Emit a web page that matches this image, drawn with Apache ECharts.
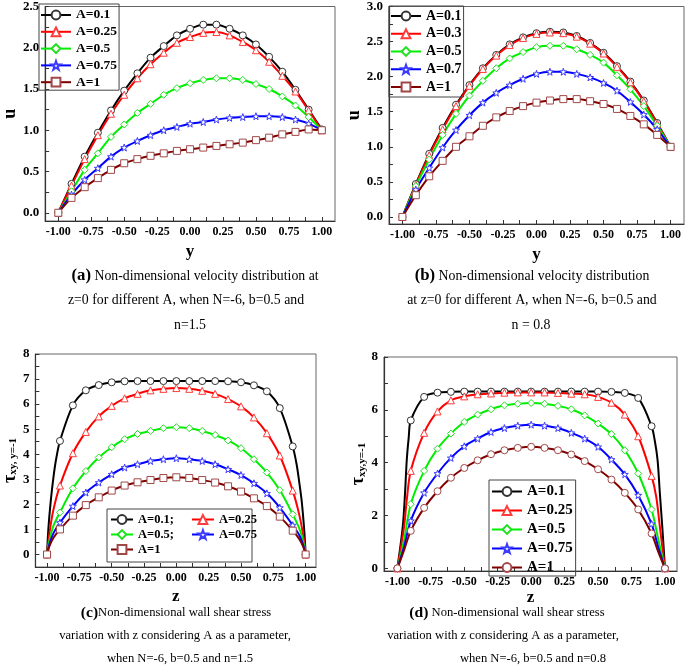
<!DOCTYPE html>
<html>
<head>
<meta charset="utf-8">
<title>velocity and wall shear stress</title>
<script src="https://cdn.jsdelivr.net/npm/echarts@6.0.0/dist/echarts.min.js"></script>
<style>
html, body { margin: 0; padding: 0; background: #fff; }
#main { width: 685px; height: 668px; }
</style>
</head>
<body>
<div id="main"></div>
<script type="text/javascript">
// marker positions (y in a,b ; z in c,d)
var pts = [-1, -0.9, -0.8, -0.7, -0.6, -0.5, -0.4, -0.3, -0.2, -0.1, 0, 0.1, 0.2, 0.3, 0.4, 0.5, 0.6, 0.7, 0.8, 0.9, 1];

// (a) u at z=0, n=1.5
var aU01  = [0, 0.35, 0.68, 0.97, 1.24, 1.48, 1.69, 1.88, 2.02, 2.15, 2.23, 2.28, 2.28, 2.23, 2.15, 2.04, 1.89, 1.71, 1.49, 1.25, 1.01];
var aU025 = [0, 0.33, 0.65, 0.94, 1.20, 1.43, 1.63, 1.80, 1.94, 2.06, 2.13, 2.18, 2.19, 2.15, 2.07, 1.97, 1.83, 1.66, 1.47, 1.24, 1.0];
var aU05  = [0, 0.26, 0.52, 0.72, 0.92, 1.07, 1.21, 1.32, 1.43, 1.51, 1.57, 1.61, 1.63, 1.63, 1.61, 1.56, 1.50, 1.41, 1.30, 1.16, 1.0];
var aU075 = [0, 0.22, 0.40, 0.54, 0.68, 0.79, 0.87, 0.94, 1.00, 1.04, 1.08, 1.10, 1.13, 1.15, 1.16, 1.17, 1.17, 1.16, 1.13, 1.08, 1.0];
var aU1   = [0, 0.18, 0.31, 0.42, 0.52, 0.60, 0.65, 0.69, 0.72, 0.75, 0.77, 0.79, 0.81, 0.83, 0.85, 0.88, 0.91, 0.95, 0.98, 1.01, 1.0];

// (b) u at z=0, n=0.8
var bU01 = [0, 0.47, 0.90, 1.27, 1.60, 1.88, 2.12, 2.31, 2.46, 2.56, 2.62, 2.64, 2.63, 2.58, 2.48, 2.34, 2.15, 1.93, 1.66, 1.34, 1.0];
var bU03 = [0, 0.46, 0.88, 1.25, 1.58, 1.87, 2.11, 2.30, 2.45, 2.55, 2.61, 2.63, 2.62, 2.57, 2.47, 2.33, 2.14, 1.92, 1.65, 1.33, 1.0];
var bU05 = [0, 0.44, 0.82, 1.17, 1.47, 1.73, 1.94, 2.12, 2.26, 2.35, 2.42, 2.44, 2.44, 2.39, 2.31, 2.20, 2.02, 1.82, 1.58, 1.30, 1.0];
var bU07 = [0, 0.39, 0.70, 0.99, 1.24, 1.45, 1.63, 1.77, 1.88, 1.97, 2.04, 2.07, 2.07, 2.04, 1.99, 1.91, 1.80, 1.64, 1.46, 1.25, 1.0];
var bU1  = [0, 0.31, 0.58, 0.80, 1.00, 1.15, 1.30, 1.42, 1.51, 1.58, 1.63, 1.66, 1.68, 1.68, 1.65, 1.61, 1.54, 1.44, 1.32, 1.17, 1.0];

// (c) wall shear stress, n=1.5
var cT01  = [0, 4.53, 5.95, 6.55, 6.76, 6.87, 6.91, 6.92, 6.92, 6.92, 6.92, 6.92, 6.92, 6.92, 6.91, 6.87, 6.75, 6.51, 5.84, 4.31, 0];
var cT025 = [0, 2.75, 4.04, 4.89, 5.51, 5.93, 6.23, 6.41, 6.55, 6.61, 6.64, 6.61, 6.53, 6.41, 6.20, 5.91, 5.47, 4.84, 3.95, 2.55, 0];
var cT05  = [0, 1.68, 2.64, 3.33, 3.87, 4.28, 4.60, 4.81, 4.93, 5.04, 5.08, 5.04, 4.93, 4.77, 4.55, 4.24, 3.80, 3.27, 2.57, 1.60, 0];
var cT075 = [0, 1.27, 1.93, 2.47, 2.87, 3.20, 3.47, 3.60, 3.73, 3.80, 3.84, 3.80, 3.73, 3.60, 3.40, 3.17, 2.84, 2.44, 1.87, 1.17, 0];
var cT1   = [0, 1.00, 1.55, 1.97, 2.28, 2.55, 2.75, 2.88, 2.97, 3.05, 3.08, 3.05, 2.97, 2.87, 2.72, 2.51, 2.24, 1.93, 1.51, 0.95, 0];
// line points near the walls (no marker)
var cX01  = [[-0.99, 1.0], [-0.97, 2.2], [-0.95, 3.1], [-0.93, 3.8], [0.93, 3.6], [0.95, 2.9], [0.97, 2.1], [0.99, 0.9]];
var cX025 = [[-0.98, 0.9], [-0.95, 1.8], [0.95, 1.6], [0.98, 0.8]];
var cX05  = [[-0.98, 0.6], [-0.95, 1.15], [0.95, 1.05], [0.98, 0.55]];
var cX075 = [[-0.98, 0.45], [-0.95, 0.85], [0.95, 0.78], [0.98, 0.4]];
var cX1   = [[-0.98, 0.35], [-0.95, 0.67], [0.95, 0.62], [0.98, 0.32]];

// (d) wall shear stress, n=0.8
var dT01  = [0, 5.60, 6.49, 6.65, 6.68, 6.69, 6.69, 6.69, 6.69, 6.69, 6.69, 6.69, 6.69, 6.69, 6.69, 6.69, 6.68, 6.64, 6.45, 5.38, 0];
var dT025 = [0, 3.69, 5.13, 5.94, 6.36, 6.51, 6.59, 6.62, 6.65, 6.66, 6.66, 6.66, 6.64, 6.61, 6.59, 6.49, 6.27, 5.82, 5.00, 3.50, 0];
var dT05  = [0, 2.43, 3.69, 4.53, 5.10, 5.54, 5.82, 6.02, 6.17, 6.23, 6.26, 6.23, 6.15, 6.02, 5.79, 5.48, 5.08, 4.47, 3.59, 2.23, 0];
var dT075 = [0, 1.80, 2.86, 3.59, 4.18, 4.62, 4.91, 5.16, 5.31, 5.40, 5.44, 5.40, 5.31, 5.13, 4.91, 4.60, 4.12, 3.56, 2.77, 1.68, 0];
var dT1   = [0, 1.42, 2.29, 2.92, 3.43, 3.80, 4.09, 4.32, 4.47, 4.56, 4.60, 4.56, 4.47, 4.31, 4.06, 3.75, 3.36, 2.86, 2.23, 1.32, 0];
var dX01  = [[-0.96, 1.57], [-0.943, 2.83], [-0.93, 4.09], [-0.915, 4.97], [0.925, 4.8], [0.945, 4.09], [0.962, 2.83], [0.98, 1.57]];
var dX025 = [[-0.95, 1.57], [-0.93, 2.58], [0.935, 2.7], [0.962, 1.57]];
var dX05  = [[-0.95, 1.07], [0.95, 1.1]];
var dX075 = [[-0.95, 0.82], [0.95, 0.8]];
var dX1   = [[-0.95, 0.69], [0.95, 0.62]];

// tick labels
var xLabels = [-1, -0.75, -0.5, -0.25, 0, 0.25, 0.5, 0.75, 1];
var xTicks = [-1, -0.875, -0.75, -0.625, -0.5, -0.375, -0.25, -0.125, 0, 0.125, 0.25, 0.375, 0.5, 0.625, 0.75, 0.875, 1];
var aYLabels = [0, 0.5, 1, 1.5, 2, 2.5];
var aYTicks = [0, 0.25, 0.5, 0.75, 1, 1.25, 1.5, 1.75, 2, 2.25, 2.5];
var bYLabels = [0, 0.5, 1, 1.5, 2, 2.5, 3];
var bYTicks = [0, 0.25, 0.5, 0.75, 1, 1.25, 1.5, 1.75, 2, 2.25, 2.5, 2.75, 3];
var cYLabels = [0, 1, 2, 3, 4, 5, 6, 7, 8];
var cYTicks = [0, 0.5, 1, 1.5, 2, 2.5, 3, 3.5, 4, 4.5, 5, 5.5, 6, 6.5, 7, 7.5, 8];
var dYLabels = [0, 2, 4, 6, 8];
var dYTicks = [0, 1, 2, 3, 4, 5, 6, 7, 8];

var SERIF = 'Liberation Serif';
var STAR = 'path://M0,-10L2.35,-3.24L9.51,-3.09L3.8,1.24L5.88,8.09L0,4L-5.88,8.09L-3.8,1.24L-9.51,-3.09L-2.35,-3.24Z';
var sty = {
    k: { line: '#000000', mark: '#333333', sym: 'circle' },
    r: { line: '#ff0000', mark: '#ff3b3b', sym: 'triangle' },
    g: { line: '#00ee00', mark: '#22e022', sym: 'diamond' },
    b: { line: '#0000ff', mark: '#3b3bff', sym: STAR },
    m: { line: '#800000', mark: '#a04848', sym: 'rect' }
};

function mkSeries(name, idx, ys, extra, s, symOverride) {
    var data = pts.map(function (x, i) { return { value: [x, ys[i]] }; });
    (extra || []).forEach(function (p) { data.push({ value: p, symbol: 'none' }); });
    data.sort(function (p, q) { return p.value[0] - q.value[0]; });
    return {
        name: name, type: 'line', xAxisIndex: idx, yAxisIndex: idx,
        data: data, smooth: 0.3, symbol: symOverride || s.sym, symbolSize: 7,
        showAllSymbol: true, color: s.line,
        lineStyle: { color: s.line, width: 2 },
        itemStyle: { color: '#ffffff', borderColor: s.mark, borderWidth: 1 },
        emphasis: { disabled: true }
    };
}

function xAx(gi, min, max, gap, nm) {
    return {
        type: 'value', gridIndex: gi, min: min, max: max,
        name: nm, nameLocation: 'middle', nameGap: gap,
        nameTextStyle: { fontFamily: SERIF, fontWeight: 'bold', fontSize: 17, color: '#000' },
        axisLine: { onZero: false, lineStyle: { color: '#333', width: 1.2 } },
        axisTick: { inside: true, length: 4, customValues: xTicks, lineStyle: { color: '#333' } },
        axisLabel: { customValues: xLabels, margin: 5, fontFamily: SERIF, fontWeight: 'bold', fontSize: 12, color: '#000',
            formatter: function (v) { return v.toFixed(2); } },
        splitLine: { show: false }
    };
}

function yAx(gi, min, max, labels, ticks, dec, gap, nm, rich) {
    return {
        type: 'value', gridIndex: gi, min: min, max: max,
        name: nm, nameLocation: 'middle', nameRotate: 90, nameGap: gap,
        nameTextStyle: { fontFamily: SERIF, fontWeight: 'bold', fontSize: 18, color: '#000', rich: rich },
        axisLine: { onZero: false, lineStyle: { color: '#333', width: 1.2 } },
        axisTick: { inside: true, length: 4, customValues: ticks, lineStyle: { color: '#333' } },
        axisLabel: { customValues: labels, margin: 6, fontFamily: SERIF, fontWeight: 'bold', fontSize: 13, color: '#000',
            formatter: function (v) { return v.toFixed(dec); } },
        splitLine: { show: false }
    };
}

var tauRich = {
    t: { fontFamily: SERIF, fontWeight: 'bold', fontSize: 18, color: '#000' },
    s: { fontFamily: SERIF, fontWeight: 'bold', fontSize: 11, color: '#000', padding: [7, 0, 0, 0] }
};

function leg(data, left, top, orient, fs, gap, iw, pad, border) {
    return {
        data: data, left: left, top: top, orient: orient,
        itemWidth: iw, itemHeight: 11, itemGap: gap, itemTextGap: 3,
        padding: pad, borderColor: border ? '#444' : 'transparent', borderWidth: border ? 1 : 0,
        textStyle: { fontFamily: SERIF, fontWeight: 'bold', fontSize: fs, lineHeight: 14, color: '#000' },
        formatter: function (n) { return n.split('|')[1]; },
        selectedMode: false
    };
}

function cap(x, y, txt, fs) {
    return {
        type: 'text', x: x, y: y,
        style: {
            text: txt, fill: '#000', font: fs + 'px "' + SERIF + '"', align: 'center', verticalAlign: 'middle',
            rich: { b: { fontFamily: SERIF, fontWeight: 'bold', fontSize: fs + 3, fill: '#000' } }
        }
    };
}

var myChart = echarts.init(document.getElementById('main'));
var option = {
    animation: false,
    backgroundColor: '#fff',
    grid: [
        { left: 39, top: 5, width: 296, height: 216, show: true, borderColor: '#666', borderWidth: 1 },
        { left: 389, top: 6, width: 295, height: 218, show: true, borderColor: '#666', borderWidth: 1 },
        { left: 30, top: 354, width: 286, height: 213, show: true, borderColor: '#666', borderWidth: 1 },
        { left: 384, top: 357, width: 293, height: 214, show: true, borderColor: '#666', borderWidth: 1 }
    ],
    xAxis: [
        xAx(0, -1.1, 1.1, 22, 'y'),
        xAx(1, -1.1, 1.1, 22, 'y'),
        xAx(2, -1.09, 1.08, 21, 'z'),
        xAx(3, -1.1, 1.09, 17, 'z')
    ],
    yAxis: [
        yAx(0, -0.1, 2.5, aYLabels, aYTicks, 1, 26, 'u'),
        yAx(1, -0.1, 3.0, bYLabels, bYTicks, 1, 21, 'u'),
        yAx(2, -0.5, 8, cYLabels, cYTicks, 0, 12, '{t|τ}{s|xy, y=-1}', tauRich),
        yAx(3, -0.1, 8, dYLabels, dYTicks, 0, 16, '{t|τ}{s|xy,y=-1}', tauRich)
    ],
    legend: [
        leg(['a|A=0.1', 'a|A=0.25', 'a|A=0.5', 'a|A=0.75', 'a|A=1'], 39, 4, 'vertical', 13.5, 2.8, 30, [4, 2, 1, 1], true),
        leg(['b|A=0.1', 'b|A=0.3', 'b|A=0.5', 'b|A=0.7', 'b|A=1'], 389, 6, 'vertical', 14, 3.75, 30, [3, 2, 3, 1], true),
        leg(['c|A=0.1;', 'c|A=0.25'], 110, 512.5, 'horizontal', 12.5, 17, 22, 0, false),
        leg(['c|A=0.5;', 'c|A=0.75'], 110, 527.5, 'horizontal', 12.5, 17, 22, 0, false),
        leg(['c|A=1'], 110, 542.5, 'horizontal', 12.5, 17, 22, 0, false),
        leg(['d|A=0.1', 'd|A=0.25', 'd|A=0.5', 'd|A=0.75', 'd|A=1'], 489, 480, 'vertical', 15, 4, 30, [4, 3, 1, 2], true)
    ],
    series: [
        mkSeries('a|A=0.1', 0, aU01, null, sty.k),
        mkSeries('a|A=0.25', 0, aU025, null, sty.r),
        mkSeries('a|A=0.5', 0, aU05, null, sty.g),
        mkSeries('a|A=0.75', 0, aU075, null, sty.b),
        mkSeries('a|A=1', 0, aU1, null, sty.m),

        mkSeries('b|A=0.1', 1, bU01, null, sty.k),
        mkSeries('b|A=0.3', 1, bU03, null, sty.r),
        mkSeries('b|A=0.5', 1, bU05, null, sty.g),
        mkSeries('b|A=0.7', 1, bU07, null, sty.b),
        mkSeries('b|A=1', 1, bU1, null, sty.m),

        mkSeries('c|A=0.1;', 2, cT01, cX01, sty.k),
        mkSeries('c|A=0.25', 2, cT025, cX025, sty.r),
        mkSeries('c|A=0.5;', 2, cT05, cX05, sty.g),
        mkSeries('c|A=0.75', 2, cT075, cX075, sty.b),
        mkSeries('c|A=1', 2, cT1, cX1, sty.m),

        mkSeries('d|A=0.1', 3, dT01, dX01, sty.k),
        mkSeries('d|A=0.25', 3, dT025, dX025, sty.r),
        mkSeries('d|A=0.5', 3, dT05, dX05, sty.g),
        mkSeries('d|A=0.75', 3, dT075, dX075, sty.b),
        mkSeries('d|A=1', 3, dT1, dX1, sty.m, 'circle')
    ],
    graphic: [
        { type: 'rect', shape: { x: 107, y: 509, width: 145, height: 53 }, style: { fill: 'none', stroke: '#444', lineWidth: 1 } },
        cap(195, 276, '{b|(a)} Non-dimensional velocity distribution at', 13.8),
        cap(186, 300, 'z=0 for different A, when N=-6, b=0.5 and', 13.8),
        cap(190, 325, 'n=1.5', 13.8),
        cap(532, 276, '{b|(b)} Non-dimensional velocity distribution', 13.8),
        cap(532, 300, 'at z=0 for different A, when N=-6, b=0.5 and', 13.8),
        cap(531, 325, 'n = 0.8', 13.8),
        cap(176, 613, '{b|(c)}Non-dimensional wall shear stress', 12.6),
        cap(175, 636, 'variation with z considering A as a parameter,', 12.6),
        cap(180, 659, 'when N=-6, b=0.5 and n=1.5', 12.6),
        cap(507, 613, '{b|(d)} Non-dimensional wall shear stress', 12.6),
        cap(503, 636, 'variation with z considering A as a parameter,', 12.6),
        cap(533, 659, 'when N=-6, b=0.5 and n=0.8', 12.6)
    ]
};
myChart.setOption(option);
</script>
</body>
</html>
